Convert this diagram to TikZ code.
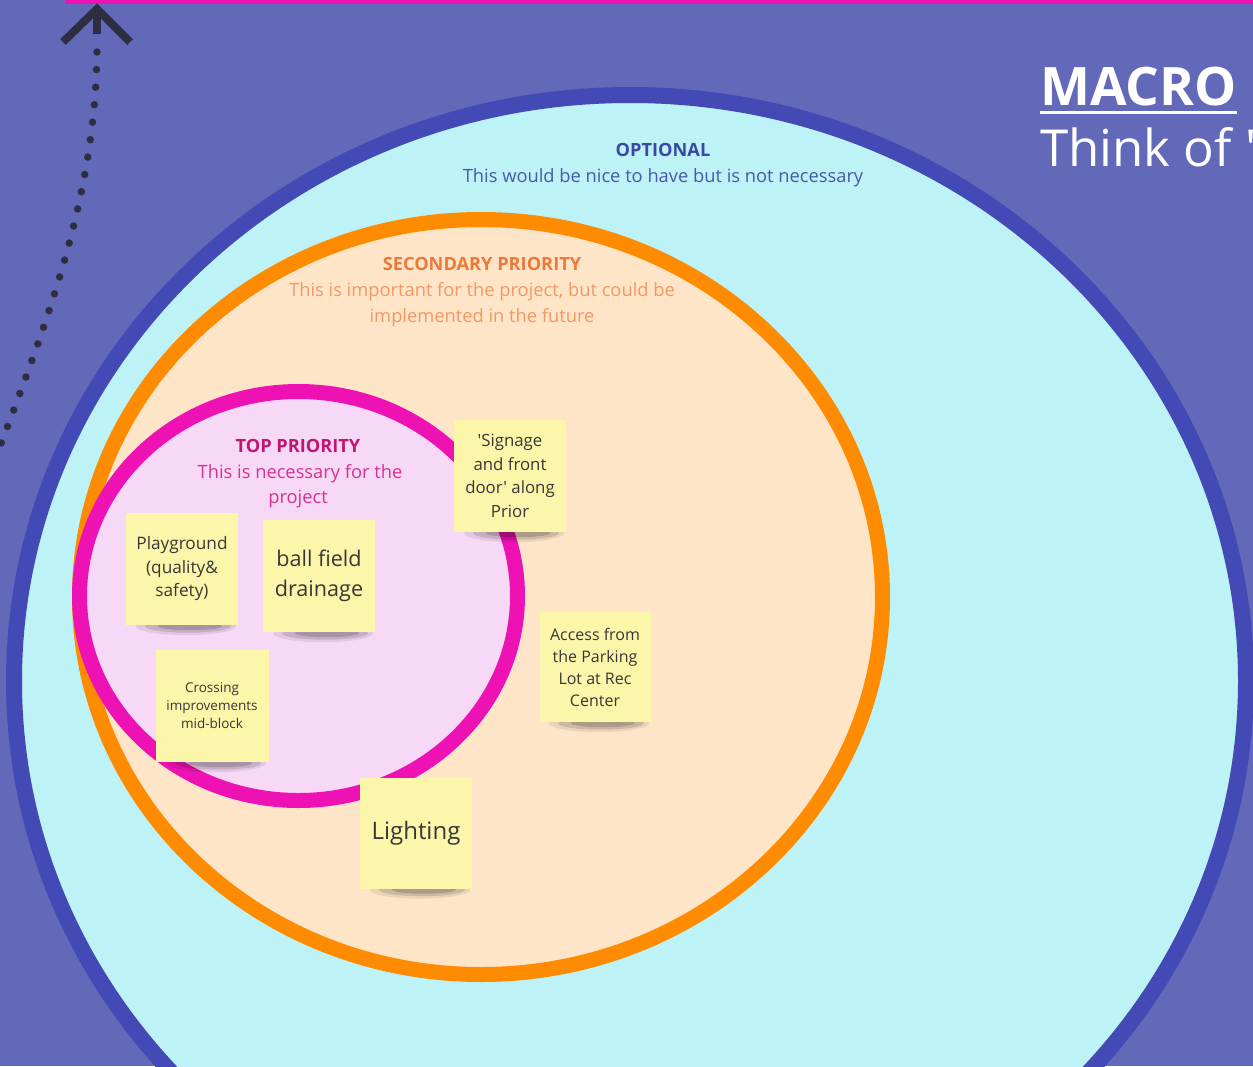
\documentclass[tikz,border=0pt]{standalone}
\usepackage{fontspec}
\setmainfont{Open Sans}[Ligatures=TeXOff]
\pgfdeclarelayer{front}
\pgfsetlayers{main,front}
\definecolor{bgpurple}{RGB}{99,105,185}
\definecolor{bigborder}{RGB}{67,74,181}
\definecolor{cyanfill}{RGB}{189,242,246}
\definecolor{orangec}{RGB}{255,140,0}
\definecolor{peachc}{RGB}{254,229,200}
\definecolor{magentac}{RGB}{238,18,180}
\definecolor{pinkfill}{RGB}{247,216,246}
\definecolor{stickyc}{RGB}{252,246,170}
\definecolor{stickytext}{RGB}{55,55,55}
\definecolor{dotc}{RGB}{46,46,66}
\definecolor{optc}{RGB}{57,73,163}
\definecolor{optsub}{RGB}{72,88,170}
\definecolor{sectitle}{RGB}{236,120,58}
\definecolor{secsub}{RGB}{242,152,100}
\definecolor{toptitle}{RGB}{194,21,111}
\definecolor{topsub}{RGB}{214,50,143}
\begin{document}
\begin{tikzpicture}[x=1pt,y=-1pt,
  sticky/.style={fill=stickyc, minimum width=112pt, minimum height=112pt,
    inner sep=0pt, align=center, text=stickytext},
  lbl/.style={anchor=base, inner sep=0pt},
  titlefont/.style={font=\bfseries\fontsize{18.2}{22}\selectfont},
  subfont/.style={font=\fontsize{18.3}{22}\selectfont},
  shadowc/.style={fill=black}
]
\useasboundingbox (0,0) rectangle (1253,1066);
\fill[bgpurple] (0,0) rectangle (1253,1066);
\fill[magentac] (65,-2) rectangle (1253,4);

% dotted arrow
\coordinate (dotstart) at (-6,462);
\coordinate (dotend) at (97,52);
\coordinate (tip) at (97,9);
\coordinate (stemend) at (97,34);
\coordinate (armL) at (63,42);
\coordinate (armR) at (130,42);
\draw[dotc, line width=7.5pt, line cap=round, dash pattern=on 0pt off 17.6pt]
  (dotend) .. controls (95,200) and (46,325) .. (dotstart);
\draw[dotc, line width=8pt] (tip) -- (stemend);
\draw[dotc, line width=8pt, line join=miter] (armL) -- (tip) -- (armR);

% circles
\draw[bigborder, line width=16pt, fill=cyanfill] (630,681) ellipse [x radius=616pt, y radius=586pt];
\draw[orangec, line width=15pt, fill=peachc] (481,597) ellipse [x radius=401.5pt, y radius=377.5pt];
\draw[magentac, line width=15pt, fill=pinkfill] (298.5,596) ellipse [x radius=219pt, y radius=204.5pt];

% labels
\node[lbl, titlefont, text=optc] (opt) at (663,156) {OPTIONAL};
\node[lbl, subfont, text=optsub] (optline) at (663,182) {This would be nice to have but is not necessary};
\node[lbl, titlefont, text=sectitle] (sec) at (482,270) {SECONDARY PRIORITY};
\node[lbl, subfont, text=secsub] (secline1) at (482,296) {This is important for the project, but could be};
\node[lbl, subfont, text=secsub] (secline2) at (482,322) {implemented in the future};
\node[lbl, titlefont, text=toptitle] (top) at (298,452) {TOP PRIORITY};
\node[lbl, subfont, text=topsub] (topline1) at (300,478) {This is necessary for the};
\node[lbl, subfont, text=topsub] (topline2) at (298,503) {project};

% headline at right
\node[anchor=base west, inner sep=0pt, text=white, font=\bfseries\fontsize{53}{60}\selectfont] (macro) at (1040,105) {MACRO};
\draw[white, line width=3pt] ([yshift=-7pt]macro.base west) -- ([yshift=-7pt]macro.base east);
\node[anchor=base west, inner sep=0pt, text=white, font=\fontsize{51}{56}\selectfont] (think) at (1040,166) {Think of '};

% sticky notes
\begin{pgfonlayer}{front}
\node[sticky, font=\fontsize{17.2}{23.5}\selectfont] (play) at (182,569) {Playground\\(quality\&\\safety)};
\node[sticky, font=\fontsize{21.6}{30}\selectfont] (ball) at (319,576) {ball field\\drainage};
\node[sticky, font=\fontsize{16.8}{23.5}\selectfont] (sign) at (510,476) {'Signage\\and front\\door' along\\Prior};
\node[sticky, minimum width=111pt, minimum height=110pt, font=\fontsize{16}{22}\selectfont] (access) at (595,667) {Access from\\the Parking\\Lot at Rec\\Center};
\node[sticky, minimum width=113pt, font=\fontsize{13.5}{18}\selectfont] (cross) at (212,706) {Crossing\\improvements\\mid-block};
\node[sticky, minimum height=111pt, font=\fontsize{24}{30}\selectfont] (light) at (416,833) {Lighting};
\end{pgfonlayer}

% shadows under sticky notes
\foreach \n in {play,ball,sign,access,cross,light}{
  \fill[shadowc, opacity=0.08] ([xshift=4pt,yshift=-1pt]\n.south) ellipse [x radius=50pt, y radius=9pt];
  \fill[shadowc, opacity=0.12] ([xshift=6pt,yshift=-1pt]\n.south) ellipse [x radius=43pt, y radius=6.5pt];
  \fill[shadowc, opacity=0.16] ([xshift=8pt,yshift=-1pt]\n.south) ellipse [x radius=32pt, y radius=4pt];
}
\end{tikzpicture}
\end{document}
